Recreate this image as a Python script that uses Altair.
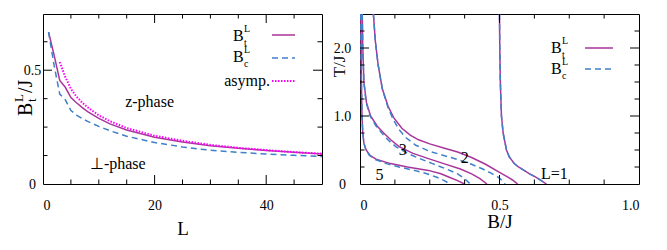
import altair as alt
import pandas as pd

FONT = "Liberation Serif"
W, H = 279, 170
C_T = "#a8369a"   # solid  B_t
C_C = "#3f80c8"   # dashed B_c
C_A = "#ff00ff"   # dotted asymptote

# ---------------- left panel data ----------------
L_vals = [1, 2, 3, 4, 5, 6, 7, 8, 10, 12, 15, 20, 25, 30, 35, 40, 45, 50]
Bt_L = [0.667, 0.565, 0.455, 0.425, 0.38, 0.357, 0.337, 0.318, 0.288, 0.264,
        0.237, 0.205, 0.185, 0.168, 0.157, 0.147, 0.139, 0.132]
Bc_L = [0.667, 0.52, 0.395, 0.37, 0.323, 0.303, 0.288, 0.275, 0.253, 0.234,
        0.21, 0.182, 0.163, 0.148, 0.139, 0.132, 0.126, 0.121]
L_asym = [3, 4, 5, 6, 7, 8, 10, 12, 15, 20, 25, 30, 35, 40, 45, 50]
B_asym = [0.536, 0.47, 0.418, 0.384, 0.358, 0.337, 0.302, 0.276, 0.246, 0.212,
          0.19, 0.172, 0.159, 0.149, 0.14, 0.133]
left_notes = ["z-phase", "\u22a5-phase"]
left_notes_x = [19.1, 13.4]
left_notes_y = [0.361, 0.09]

# ---------------- right panel data ----------------
T1 = [2.5, 2.0, 1.5, 1.0, 0.75, 0.5, 0.4, 0.3, 0.25, 0.2, 0.15, 0.1, 0.05, 0.0]
B1 = [0.500, 0.501, 0.503, 0.507, 0.513, 0.525, 0.535, 0.553, 0.568, 0.588,
      0.608, 0.630, 0.650, 0.668]
B2t = [0.048, 0.055, 0.065, 0.08, 0.1, 0.12, 0.15, 0.18, 0.21, 0.25, 0.3, 0.35,
       0.4, 0.45, 0.5, 0.53, 0.55, 0.565]
T2t = [2.5, 2.1, 1.75, 1.4, 1.15, 0.98, 0.82, 0.72, 0.65, 0.59, 0.53, 0.47,
       0.39, 0.29, 0.17, 0.1, 0.05, 0.0]
B2c = [0.048, 0.055, 0.065, 0.08, 0.1, 0.12, 0.14, 0.165, 0.2, 0.25, 0.3, 0.35,
       0.4, 0.44, 0.47, 0.495, 0.51, 0.52]
T2c = [2.5, 2.1, 1.75, 1.4, 1.13, 0.94, 0.8, 0.68, 0.57, 0.48, 0.42, 0.36,
       0.29, 0.22, 0.16, 0.1, 0.05, 0.0]
T3 = [2.5, 2.0, 1.5, 1.2, 1.0, 0.85, 0.75, 0.65, 0.55, 0.45, 0.38, 0.3, 0.22, 0.15, 0.08, 0.0]
B3t = [0.008, 0.010, 0.014, 0.023, 0.038, 0.062, 0.085, 0.11, 0.14, 0.19, 0.24,
       0.3, 0.36, 0.4, 0.43, 0.455]
B3c = [0.008, 0.010, 0.014, 0.022, 0.036, 0.058, 0.078, 0.1, 0.128, 0.17, 0.21,
       0.26, 0.31, 0.35, 0.375, 0.395]
T5 = [2.5, 2.0, 1.5, 1.0, 0.75, 0.6, 0.5, 0.42, 0.36, 0.3, 0.25, 0.2, 0.15, 0.1, 0.05, 0.0]
B5t = [0.003, 0.004, 0.005, 0.007, 0.01, 0.014, 0.022, 0.036, 0.06, 0.11, 0.17,
       0.245, 0.29, 0.32, 0.35, 0.374]
B5c = [0.003, 0.004, 0.005, 0.007, 0.01, 0.014, 0.021, 0.034, 0.055, 0.095, 0.14,
       0.195, 0.24, 0.275, 0.302, 0.323]
right_notes = ["L=1", "2", "3", "5"]
right_notes_x = [0.697, 0.375, 0.153, 0.07]
right_notes_y = [0.15, 0.38, 0.5, 0.135]

# tick positions
lx_major, lx_minor = [20, 40], [5, 10, 15, 25, 30, 35, 45]
ly_major, ly_minor = [0.5], [0.125, 0.25, 0.375, 0.625]
rx_major, rx_minor = [0.5], [0.125, 0.25, 0.375, 0.625, 0.75, 0.875]
ry_major, ry_minor = [1, 2], [0.25, 0.5, 0.75, 1.25, 1.5, 1.75, 2.25]
lx_labels, ly_labels = [0, 20, 40], [0, 0.5]
rx_labels, ry_labels = [0, 0.5, 1.0], [0, 1, 2]

LABEL_EXPR = "datum.value == 0 ? '0' : format(datum.value, '.1f')"

# ---------------- scales & axes ----------------
LX_DOM, LY_DOM = [0, 50], [0, 0.747]
RX_DOM, RY_DOM = [0, 1], [0, 2.5]
lxs = alt.Scale(domain=LX_DOM, nice=False, zero=False)
lys = alt.Scale(domain=LY_DOM, nice=False, zero=False)
rxs = alt.Scale(domain=RX_DOM, nice=False, zero=False)
rys = alt.Scale(domain=RY_DOM, nice=False, zero=False)

lxa = alt.Axis(values=lx_labels, title="L", labelPadding=14, titleY=50,
               titleBaseline="alphabetic")
lya = alt.Axis(values=ly_labels, title=None, labelExpr=LABEL_EXPR, labelAlign="center",
               labelPadding=11, labelBaseline="middle")
rxa = alt.Axis(values=rx_labels, title="B/J", labelExpr=LABEL_EXPR, labelPadding=14,
               titleY=43, titleBaseline="alphabetic")
rya = alt.Axis(values=ry_labels, title="T/J", labelExpr=LABEL_EXPR, labelAlign="center",
               labelPadding=18, labelBaseline="middle", titleX=-16, titleY=52,
               titleAngle=270, titleBaseline="alphabetic", titleFontSize=17)


def curves_df(curves):
    rows = []
    for name, xs, ys in curves:
        for i, (a, b) in enumerate(zip(xs, ys)):
            rows.append({"c": name, "i": i, "x": a, "y": b})
    return pd.DataFrame(rows)


def ticks(xsc, ysc, xax, yax, xdom, ydom, xmaj, xmin, ymaj, ymin, maj=9, mnr=4.5):
    out = []
    for vals, ln in ((xmaj, maj), (xmin, mnr)):
        for edge, off in ((ydom[0], -ln), (ydom[1], ln)):
            df = pd.DataFrame({"v": vals, "e": [edge] * len(vals)})
            out.append(alt.Chart(df).mark_rule(color="black", strokeWidth=1, y2Offset=off).encode(
                x=alt.X("v:Q", scale=xsc, axis=xax), x2="v:Q",
                y=alt.Y("e:Q", scale=ysc, axis=yax), y2="e:Q"))
    for vals, ln in ((ymaj, maj), (ymin, mnr)):
        for edge, off in ((xdom[0], ln), (xdom[1], -ln)):
            df = pd.DataFrame({"v": vals, "e": [edge] * len(vals)})
            out.append(alt.Chart(df).mark_rule(color="black", strokeWidth=1, x2Offset=off).encode(
                y=alt.Y("v:Q", scale=ysc, axis=yax), y2="v:Q",
                x=alt.X("e:Q", scale=xsc, axis=xax), x2="e:Q"))
    return out


def txt(s, x, y, size, align="left", baseline="alphabetic", angle=0):
    return alt.Chart(pd.DataFrame({"t": [s]})).mark_text(
        font=FONT, fontSize=size, color="black", align=align,
        baseline=baseline, angle=angle).encode(
        x=alt.value(x), y=alt.value(y), text="t:N")


def bsym(sub, x, y):
    return [txt("B", x, y, 16), txt("L", x + 11, y - 9, 10), txt(sub, x + 11, y + 5, 10)]


def leg_line(x1, x2, y, color, dash, sw=1.5):
    m = alt.Chart(pd.DataFrame({"a": [0]})).mark_rule(color=color, strokeWidth=sw, strokeDash=dash)
    return m.encode(x=alt.value(x1), x2=alt.value(x2), y=alt.value(y))


# ---------------- left panel ----------------
df_t = pd.DataFrame({"x": L_vals, "y": Bt_L})
df_c = pd.DataFrame({"x": L_vals, "y": Bc_L})
df_a = pd.DataFrame({"x": L_asym, "y": B_asym})

left_t = alt.Chart(df_t).mark_line(color=C_T, strokeWidth=1.5, clip=True).encode(
    x=alt.X("x:Q", scale=lxs, axis=lxa), y=alt.Y("y:Q", scale=lys, axis=lya))
left_c = alt.Chart(df_c).mark_line(color=C_C, strokeWidth=1.5, strokeDash=[6, 4], clip=True).encode(
    x=alt.X("x:Q", scale=lxs, axis=lxa), y=alt.Y("y:Q", scale=lys, axis=lya))
left_a = alt.Chart(df_a).mark_line(color=C_A, strokeWidth=2, strokeDash=[1.5, 1.5], clip=True).encode(
    x=alt.X("x:Q", scale=lxs, axis=lxa), y=alt.Y("y:Q", scale=lys, axis=lya))
left_notes_ch = alt.Chart(pd.DataFrame({"t": left_notes, "x": left_notes_x, "y": left_notes_y})).mark_text(
    font=FONT, fontSize=16, color="black", baseline="middle").encode(
    x=alt.X("x:Q", scale=lxs, axis=lxa), y=alt.Y("y:Q", scale=lys, axis=lya), text="t:N")

left_title = [
    txt("B", -11, 102, 20, angle=270),
    txt("L", -20, 88, 13, angle=270),
    txt("t", -7, 88, 13, angle=270),
    txt("/J", -11, 79, 20, angle=270),
]
left_legend = (bsym("t", 190, 27) + [leg_line(229, 252, 21, C_T, [1, 0])]
               + bsym("c", 190, 48) + [leg_line(229, 252, 44, C_C, [6, 4])]
               + [txt("asymp.", 227, 72, 16, align="right"),
                  leg_line(229, 252, 67, C_A, [1.5, 1.5], sw=2)])

left = alt.layer(left_t, left_c, left_a, left_notes_ch,
                 *ticks(lxs, lys, lxa, lya, LX_DOM, LY_DOM, lx_major, lx_minor, ly_major, ly_minor),
                 *left_title, *left_legend).properties(width=W, height=H)

# ---------------- right panel ----------------
df_rt = curves_df([("1", B1, T1), ("2", B2t, T2t), ("3", B3t, T3), ("5", B5t, T5)])
df_rc = curves_df([("1", B1, T1), ("2", B2c, T2c), ("3", B3c, T3), ("5", B5c, T5)])

right_t = alt.Chart(df_rt).mark_line(color=C_T, strokeWidth=1.5, clip=True).encode(
    x=alt.X("x:Q", scale=rxs, axis=rxa), y=alt.Y("y:Q", scale=rys, axis=rya),
    detail="c:N", order="i:Q")
right_c = alt.Chart(df_rc).mark_line(color=C_C, strokeWidth=1.5, strokeDash=[6, 4], clip=True).encode(
    x=alt.X("x:Q", scale=rxs, axis=rxa), y=alt.Y("y:Q", scale=rys, axis=rya),
    detail="c:N", order="i:Q")
right_notes_ch = alt.Chart(pd.DataFrame({"t": right_notes, "x": right_notes_x, "y": right_notes_y})).mark_text(
    font=FONT, fontSize=16, color="black", baseline="middle").encode(
    x=alt.X("x:Q", scale=rxs, axis=rxa), y=alt.Y("y:Q", scale=rys, axis=rya), text="t:N")
right_legend = (bsym("t", 191, 39) + [leg_line(225, 253, 34, C_T, [1, 0])]
                + bsym("c", 191, 60) + [leg_line(225, 253, 55, C_C, [6, 4])])

right = alt.layer(right_t, right_c, right_notes_ch,
                  *ticks(rxs, rys, rxa, rya, RX_DOM, RY_DOM, rx_major, rx_minor, ry_major, ry_minor),
                  *right_legend).properties(width=W, height=H)

chart = alt.hconcat(left, right, spacing=6).properties(
    padding={"left": 4, "top": 5, "right": 5, "bottom": 5}
).configure_axis(
    labelFont=FONT, titleFont=FONT, labelFontSize=14, titleFontSize=19,
    titleFontWeight="normal", labelColor="black", titleColor="black",
    domain=False, ticks=False, grid=False,
).configure_view(stroke="black", strokeWidth=1)

chart.save("out.html", embed_options={"renderer": "svg", "actions": False})
